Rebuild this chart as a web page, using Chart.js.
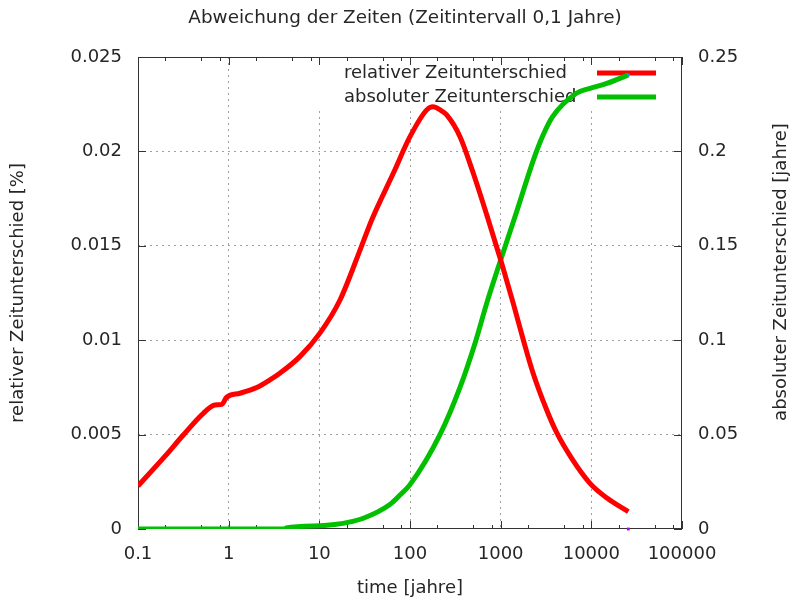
<!DOCTYPE html>
<html>
<head>
<meta charset="utf-8">
<script src="https://cdn.jsdelivr.net/npm/chart.js@4"></script>
<style>
    html, body { margin: 0; padding: 0; background: #fff; }
</style>
</head>
<body>
<canvas id="chartZeiten" width="790" height="604"></canvas>
<script>
// Werte
const relX = [0.1, 0.2, 0.316, 0.525, 0.707, 0.84, 0.95, 1.33, 2.04, 2.85, 3.67, 6.1, 10.1, 16.9, 29.3, 37.8, 65.4, 100, 153, 180, 215, 254, 356, 499, 731, 1026, 1377, 1778, 2280, 3220, 4150, 6070, 9660, 15000, 25600];
const relY = [0.00228, 0.00387, 0.00498, 0.00613, 0.00657, 0.0066, 0.00698, 0.00719, 0.0075, 0.0079, 0.00825, 0.00913, 0.01036, 0.01213, 0.015, 0.01637, 0.01884, 0.02078, 0.0222, 0.02236, 0.0222, 0.02193, 0.02078, 0.01884, 0.01637, 0.01407, 0.01195, 0.01001, 0.00825, 0.0063, 0.0051, 0.00374, 0.00242, 0.00163, 0.00092];

const absX = [0.1, 4.2, 4.3, 10, 13, 20, 30.6, 60, 77.6, 100, 214, 356, 530, 701, 1000, 1500, 2280, 2930, 3740, 6850, 9660, 14800, 25600];
const absY = [0, 0, 0.0005, 0.0017, 0.0021, 0.0034, 0.0057, 0.013, 0.018, 0.0235, 0.05, 0.075, 0.0995, 0.1195, 0.1425, 0.168, 0.195, 0.2085, 0.2184, 0.2308, 0.2334, 0.236, 0.2405];

// einzelne Endpunkte (violett unten, blau oben)
const endX = [25600];
const endRelY = [0];
const endAbsY = [0.2405];

const xTicks = [0.1, 1, 10, 100, 1000, 10000, 100000];
const minorFaktoren = [2, 5, 8];
const serienNamen = ['relativer Zeitunterschied', 'absoluter Zeitunterschied'];
const farben = ['#ff0000', '#00c000'];

const schrift = 'DejaVu Sans';
const textFarbe = '#262626';

function zahl(v) {
    return String(parseFloat(Number(v).toFixed(6)));
}

// Rahmen, Tics, Legende und Texte im gnuplot-Stil
const rahmenPlugin = {
    id: 'rahmen',
    beforeDatasetsDraw(chart) {
        const ctx = chart.ctx;
        const a = chart.chartArea;
        const sx = chart.scales.x, sy = chart.scales.y, sy2 = chart.scales.y2;
        ctx.save();

        // Legendenhintergrund
        ctx.fillStyle = '#fff';
        ctx.fillRect(300, a.top + 1, a.right - 301, 53);

        ctx.strokeStyle = '#333';
        ctx.lineWidth = 1;
        ctx.strokeRect(a.left + 0.5, a.top + 0.5, a.right - a.left - 1, a.bottom - a.top - 1);

        ctx.beginPath();
        xTicks.forEach(function(v) {
            const px = Math.round(sx.getPixelForValue(v)) + 0.5;
            ctx.moveTo(px, a.bottom); ctx.lineTo(px, a.bottom - 8);
            ctx.moveTo(px, a.top); ctx.lineTo(px, a.top + 8);
            if (v < 100000) {
                minorFaktoren.forEach(function(f) {
                    const mx = Math.round(sx.getPixelForValue(v * f)) + 0.5;
                    ctx.moveTo(mx, a.bottom); ctx.lineTo(mx, a.bottom - 4);
                    ctx.moveTo(mx, a.top); ctx.lineTo(mx, a.top + 4);
                });
            }
        });
        sy.ticks.forEach(function(t) {
            const py = Math.round(sy.getPixelForValue(t.value)) + 0.5;
            ctx.moveTo(a.left, py); ctx.lineTo(a.left + 8, py);
        });
        sy2.ticks.forEach(function(t) {
            const py = Math.round(sy2.getPixelForValue(t.value)) + 0.5;
            ctx.moveTo(a.right, py); ctx.lineTo(a.right - 8, py);
        });
        ctx.stroke();

        // Legende
        ctx.font = '18px "' + schrift + '"';
        ctx.fillStyle = textFarbe;
        ctx.textAlign = 'left';
        ctx.textBaseline = 'middle';
        serienNamen.forEach(function(name, i) {
            const y = 73 + i * 24;
            ctx.fillText(name, 344, y);
            ctx.strokeStyle = farben[i];
            ctx.lineWidth = 5;
            ctx.beginPath();
            ctx.moveTo(597, y);
            ctx.lineTo(656, y);
            ctx.stroke();
        });
        ctx.restore();
    },
    afterDraw(chart) {
        const ctx = chart.ctx;
        ctx.save();
        ctx.fillStyle = textFarbe;
        ctx.textAlign = 'center';
        ctx.textBaseline = 'middle';
        ctx.font = '18.4px "' + schrift + '"';
        ctx.fillText('Abweichung der Zeiten (Zeitintervall 0,1 Jahre)', 405, 18);
        ctx.font = '18px "' + schrift + '"';
        ctx.translate(781, 272);
        ctx.rotate(-Math.PI / 2);
        ctx.fillText('absoluter Zeitunterschied [jahre]', 0, 0);
        ctx.restore();
    }
};

const gitter = {
    color: function(c) {
        if (!c.tick) return 'rgba(0,0,0,0)';
        const n = c.chart.scales[c.scale.id].ticks.length;
        return (c.index === 0 || c.index === n - 1) ? 'rgba(0,0,0,0)' : '#a0a0a0';
    },
    lineWidth: 1,
    drawTicks: false
};

const achsenSchrift = { family: schrift, size: 18 };

new Chart(document.getElementById('chartZeiten'), {
    type: 'line',
    data: {
        datasets: [{
            label: serienNamen[0],
            data: relX.map(function(x, i) { return { x: x, y: relY[i] }; }),
            borderColor: farben[0],
            borderWidth: 5,
            pointRadius: 0,
            cubicInterpolationMode: 'monotone',
            yAxisID: 'y'
        }, {
            label: serienNamen[1],
            data: absX.map(function(x, i) { return { x: x, y: absY[i] }; }),
            borderColor: farben[1],
            borderWidth: 5,
            pointRadius: 0,
            cubicInterpolationMode: 'monotone',
            yAxisID: 'y2'
        }, {
            label: 'ende1',
            data: endX.map(function(x, i) { return { x: x, y: endRelY[i] }; }),
            showLine: false,
            pointStyle: 'rect',
            pointRadius: 2,
            pointBorderWidth: 0,
            pointBackgroundColor: '#b000ff',
            clip: false,
            order: -1,
            yAxisID: 'y'
        }, {
            label: 'ende2',
            data: endX.map(function(x, i) { return { x: x, y: endAbsY[i] }; }),
            showLine: false,
            pointStyle: 'rect',
            pointRadius: 2,
            pointBorderWidth: 0,
            pointBackgroundColor: '#1e90ff',
            clip: false,
            order: -1,
            yAxisID: 'y2'
        }]
    },
    options: {
        responsive: false,
        animation: false,
        layout: { padding: { top: 57 } },
        plugins: {
            legend: { display: false },
            tooltip: { enabled: false },
            title: { display: false }
        },
        scales: {
            x: {
                type: 'logarithmic',
                min: 0.1,
                max: 100000,
                afterBuildTicks: function(scale) {
                    scale.ticks = xTicks.map(function(v) { return { value: v }; });
                },
                afterFit: function(scale) { scale.height = 75; },
                grid: gitter,
                border: { display: false, dash: [2, 4] },
                ticks: {
                    color: textFarbe,
                    font: achsenSchrift,
                    padding: 15,
                    maxRotation: 0,
                    autoSkip: false,
                    callback: function(v) { return zahl(v); }
                },
                title: {
                    display: true,
                    text: 'time [jahre]',
                    color: textFarbe,
                    font: achsenSchrift,
                    padding: { top: 0, bottom: 5 }
                }
            },
            y: {
                position: 'left',
                min: 0,
                max: 0.025,
                afterFit: function(scale) { scale.width = 138; },
                grid: gitter,
                border: { display: false, dash: [2, 4] },
                ticks: {
                    stepSize: 0.005,
                    color: textFarbe,
                    font: achsenSchrift,
                    padding: 16,
                    callback: function(v) { return zahl(v); }
                },
                title: {
                    display: true,
                    text: 'relativer Zeitunterschied [%]',
                    color: textFarbe,
                    font: achsenSchrift,
                    padding: { top: 8, bottom: 0 }
                }
            },
            y2: {
                position: 'right',
                min: 0,
                max: 0.25,
                afterFit: function(scale) { scale.width = 108; },
                grid: { display: false, drawTicks: false },
                border: { display: false },
                ticks: {
                    stepSize: 0.05,
                    color: textFarbe,
                    font: achsenSchrift,
                    padding: 16,
                    callback: function(v) { return zahl(v); }
                }
            }
        }
    },
    plugins: [rahmenPlugin]
});
</script>
</body>
</html>
